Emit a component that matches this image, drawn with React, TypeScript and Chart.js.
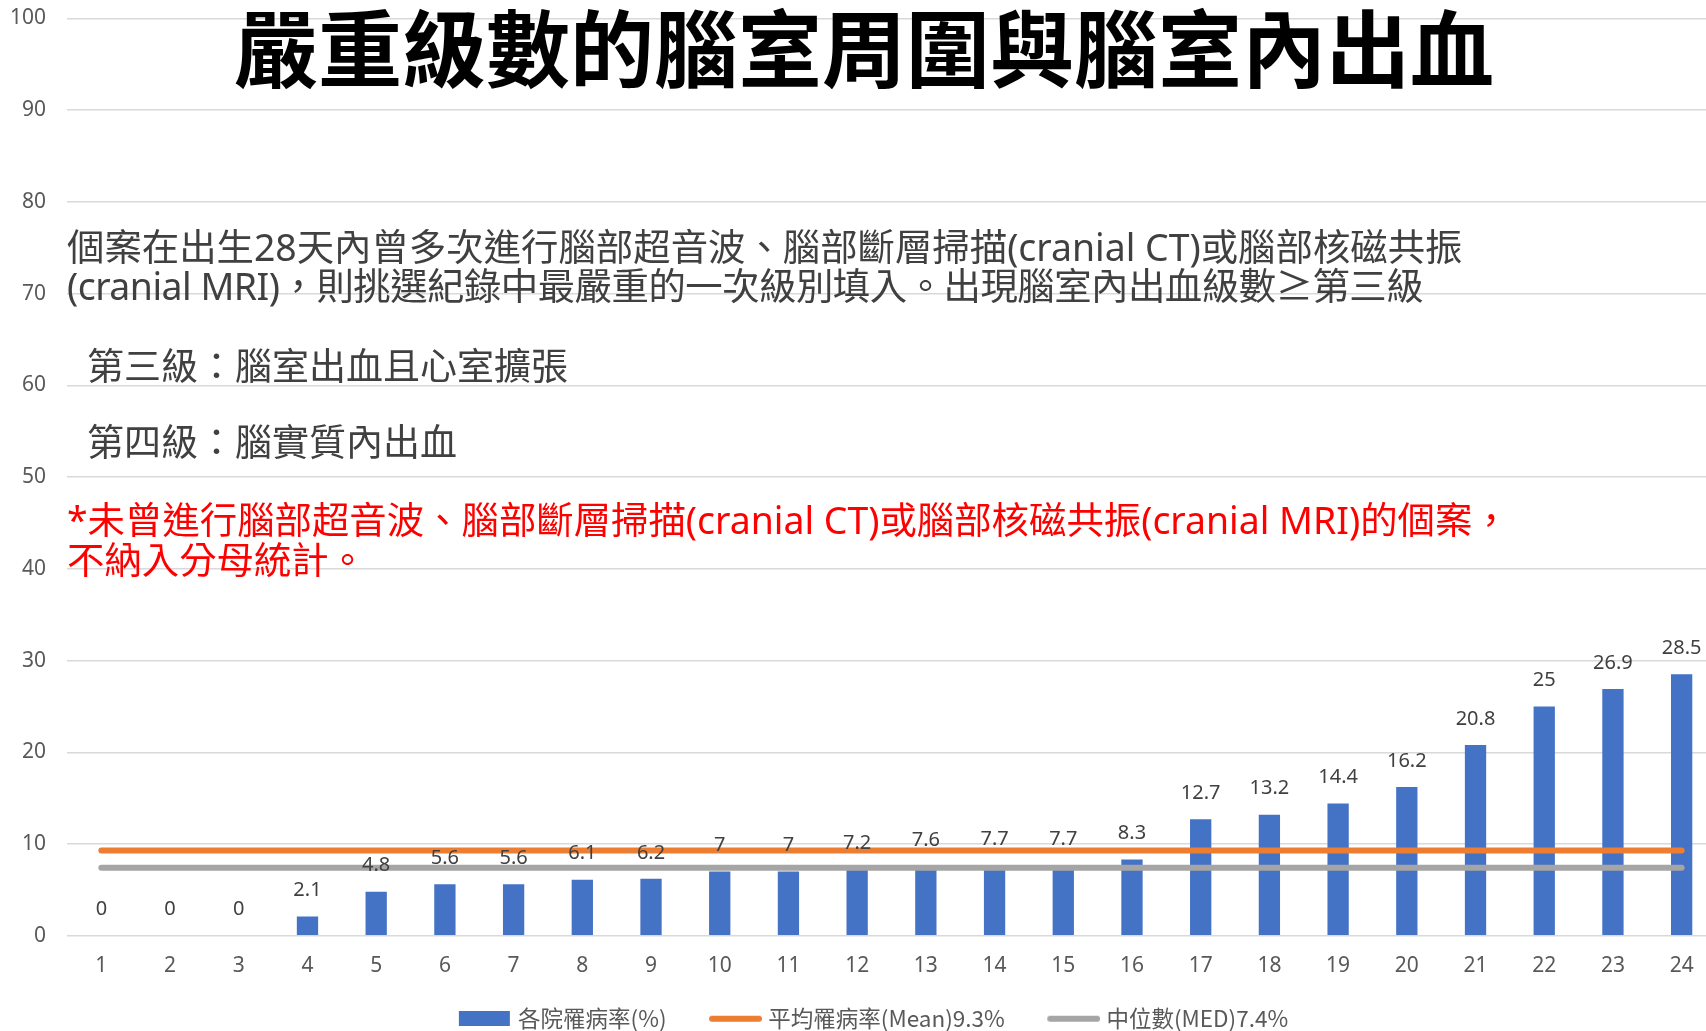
import React, { useEffect, useRef } from 'react';
import { Chart, registerables } from 'chart.js';

Chart.register(...registerables);

// ---------- data ----------
const hospitals = ['1', '2', '3', '4', '5', '6', '7', '8', '9', '10', '11', '12', '13', '14', '15', '16', '17', '18', '19', '20', '21', '22', '23', '24'];
const rates = [0, 0, 0, 2.1, 4.8, 5.6, 5.6, 6.1, 6.2, 7, 7, 7.2, 7.6, 7.7, 7.7, 8.3, 12.7, 13.2, 14.4, 16.2, 20.8, 25, 26.9, 28.5];
const meanRate = [9.3, 9.3, 9.3, 9.3, 9.3, 9.3, 9.3, 9.3, 9.3, 9.3, 9.3, 9.3, 9.3, 9.3, 9.3, 9.3, 9.3, 9.3, 9.3, 9.3, 9.3, 9.3, 9.3, 9.3];
const medianRate = [7.4, 7.4, 7.4, 7.4, 7.4, 7.4, 7.4, 7.4, 7.4, 7.4, 7.4, 7.4, 7.4, 7.4, 7.4, 7.4, 7.4, 7.4, 7.4, 7.4, 7.4, 7.4, 7.4, 7.4];
const seriesLabels = ['各院罹病率(%)', '平均罹病率(Mean)9.3%', '中位數(MED)7.4%'];
const yMin = 0;
const yMax = 100;
const yStep = 10;

const titleText = '嚴重級數的腦室周圍與腦室內出血';
const noteLines = [
  '個案在出生28天內曾多次進行腦部超音波、腦部斷層掃描(cranial CT)或腦部核磁共振',
  '(cranial MRI)，則挑選紀錄中最嚴重的一次級別填入。出現腦室內出血級數≥第三級',
];
const grade3 = '第三級：腦室出血且心室擴張';
const grade4 = '第四級：腦實質內出血';
const redLines = [
  '*未曾進行腦部超音波、腦部斷層掃描(cranial CT)或腦部核磁共振(cranial MRI)的個案，',
  '不納入分母統計。',
];

const BLUE = '#4472C4';
const ORANGE = '#ED7D31';
const GRAY = '#A5A5A5';
const FONT = '"Noto Sans", "Noto Sans CJK TC", sans-serif';
const CJK = '"Noto Sans CJK TC", "Noto Sans", sans-serif';

// legend icon: transparent left margin (acts as the gap between legend items) + visible mark
const ICON_MARGIN = 36;
const ICON_W = ICON_MARGIN + 53;

function makeBoxIcon(color: string) {
  const c = document.createElement('canvas');
  c.width = ICON_W;
  c.height = 15;
  const g = c.getContext('2d')!;
  g.fillStyle = color;
  g.fillRect(ICON_MARGIN, 0, 51, 15);
  return c;
}
function makeLineIcon(color: string) {
  const c = document.createElement('canvas');
  c.width = ICON_W;
  c.height = 8;
  const g = c.getContext('2d')!;
  g.strokeStyle = color;
  g.lineWidth = 6;
  g.lineCap = 'round';
  g.beginPath();
  g.moveTo(ICON_MARGIN + 3, 4);
  g.lineTo(ICON_MARGIN + 50, 4);
  g.stroke();
  return c;
}

const valueLabels = {
  id: 'valueLabels',
  afterDatasetsDraw(chart: any) {
    const meta = chart.getDatasetMeta(0);
    const ds = chart.data.datasets[0];
    const ctx = chart.ctx;
    ctx.save();
    ctx.font = `20px ${FONT}`;
    ctx.fillStyle = '#404040';
    ctx.textAlign = 'center';
    ctx.textBaseline = 'middle';
    meta.data.forEach((bar: any, i: number) => {
      ctx.fillText(String(ds.data[i]), bar.x, bar.y - 26);
    });
    ctx.restore();
  },
};

function ChartView() {
  const ref = useRef<HTMLCanvasElement | null>(null);
  useEffect(() => {
    if (!ref.current) return;
    const icons = [makeBoxIcon(BLUE), makeLineIcon(ORANGE), makeLineIcon(GRAY)];
    const chart = new Chart(ref.current, {
      type: 'bar',
      data: {
        labels: hospitals,
        datasets: [
          {
            type: 'bar',
            label: seriesLabels[0],
            data: rates,
            backgroundColor: BLUE,
            barPercentage: 0.31,
            categoryPercentage: 1,
            order: 3,
          },
          {
            type: 'line',
            label: seriesLabels[1],
            data: meanRate,
            borderColor: ORANGE,
            borderWidth: 6,
            borderCapStyle: 'round',
            pointRadius: 0,
            fill: false,
            order: 1,
          },
          {
            type: 'line',
            label: seriesLabels[2],
            data: medianRate,
            borderColor: GRAY,
            borderWidth: 6,
            borderCapStyle: 'round',
            pointRadius: 0,
            fill: false,
            order: 2,
          },
        ] as any,
      },
      options: {
        responsive: false,
        animation: false,
        devicePixelRatio: 1,
        layout: { padding: { top: 18.5, left: 0, right: 28, bottom: 0 } },
        plugins: {
          tooltip: { enabled: false },
          title: { display: false },
          legend: {
            position: 'bottom',
            labels: {
              usePointStyle: true,
              pointStyleWidth: ICON_W - 10,
              boxHeight: 15,
              padding: 11.5,
              color: '#595959',
              font: { size: 22.5, family: CJK },
              generateLabels: (ch: any) =>
                ch.data.datasets.map((ds: any, i: number) => ({
                  text: ds.label,
                  pointStyle: icons[i],
                  fillStyle: 'rgba(0,0,0,0)',
                  strokeStyle: 'rgba(0,0,0,0)',
                  lineWidth: 0,
                  hidden: false,
                  datasetIndex: i,
                  fontColor: '#595959',
                })),
            },
          },
        },
        scales: {
          x: {
            grid: { display: false },
            border: { display: false },
            ticks: { color: '#595959', font: { size: 21, family: FONT }, padding: 9.5, maxRotation: 0, autoSkip: false },
            afterFit: (s: any) => {
              s.height = 60.3;
            },
          },
          y: {
            min: yMin,
            max: yMax,
            position: 'left',
            grid: { color: '#d9d9d9', lineWidth: 1.5, drawTicks: false },
            border: { display: false },
            ticks: { stepSize: yStep, color: '#595959', font: { size: 21, family: FONT }, padding: 21 },
            afterFit: (s: any) => {
              s.width = 67;
              s.paddingTop = 10;
              s.paddingBottom = 10;
            },
          },
        },
      } as any,
      plugins: [valueLabels],
    });
    return () => chart.destroy();
  }, []);
  return <canvas ref={ref} width={1744} height={1040} style={{ width: 1744, height: 1040, display: 'block' }} />;
}

export default function App() {
  const abs = (extra: React.CSSProperties): React.CSSProperties => ({
    position: 'absolute',
    whiteSpace: 'nowrap',
    margin: 0,
    ...extra,
  });
  return (
    <div style={{ position: 'fixed', left: 0, top: 0, width: 1706, height: 1031, overflow: 'hidden', background: '#fff' }}>
      <ChartView />
      <div style={abs({ left: 234, top: 2.5, fontFamily: CJK, fontWeight: 700, fontSize: 84, lineHeight: '84px', color: '#000' })}>{titleText}</div>
      <div style={abs({ left: 67, top: 227, fontFamily: FONT, fontSize: 37.4, lineHeight: '39px', color: '#404040' })}>
        {noteLines[0]}
        <br />
        <span style={{ letterSpacing: '-0.5px' }}>{noteLines[1]}</span>
      </div>
      <div style={abs({ left: 87, top: 346, fontFamily: FONT, fontSize: 37, lineHeight: '39px', color: '#404040' })}>{grade3}</div>
      <div style={abs({ left: 87, top: 422, fontFamily: FONT, fontSize: 37, lineHeight: '39px', color: '#404040' })}>{grade4}</div>
      <div style={abs({ left: 67, top: 500, fontFamily: FONT, fontSize: 37.4, lineHeight: '40px', color: '#FF0000' })}>
        {redLines[0]}
        <br />
        {redLines[1]}
      </div>
    </div>
  );
}
